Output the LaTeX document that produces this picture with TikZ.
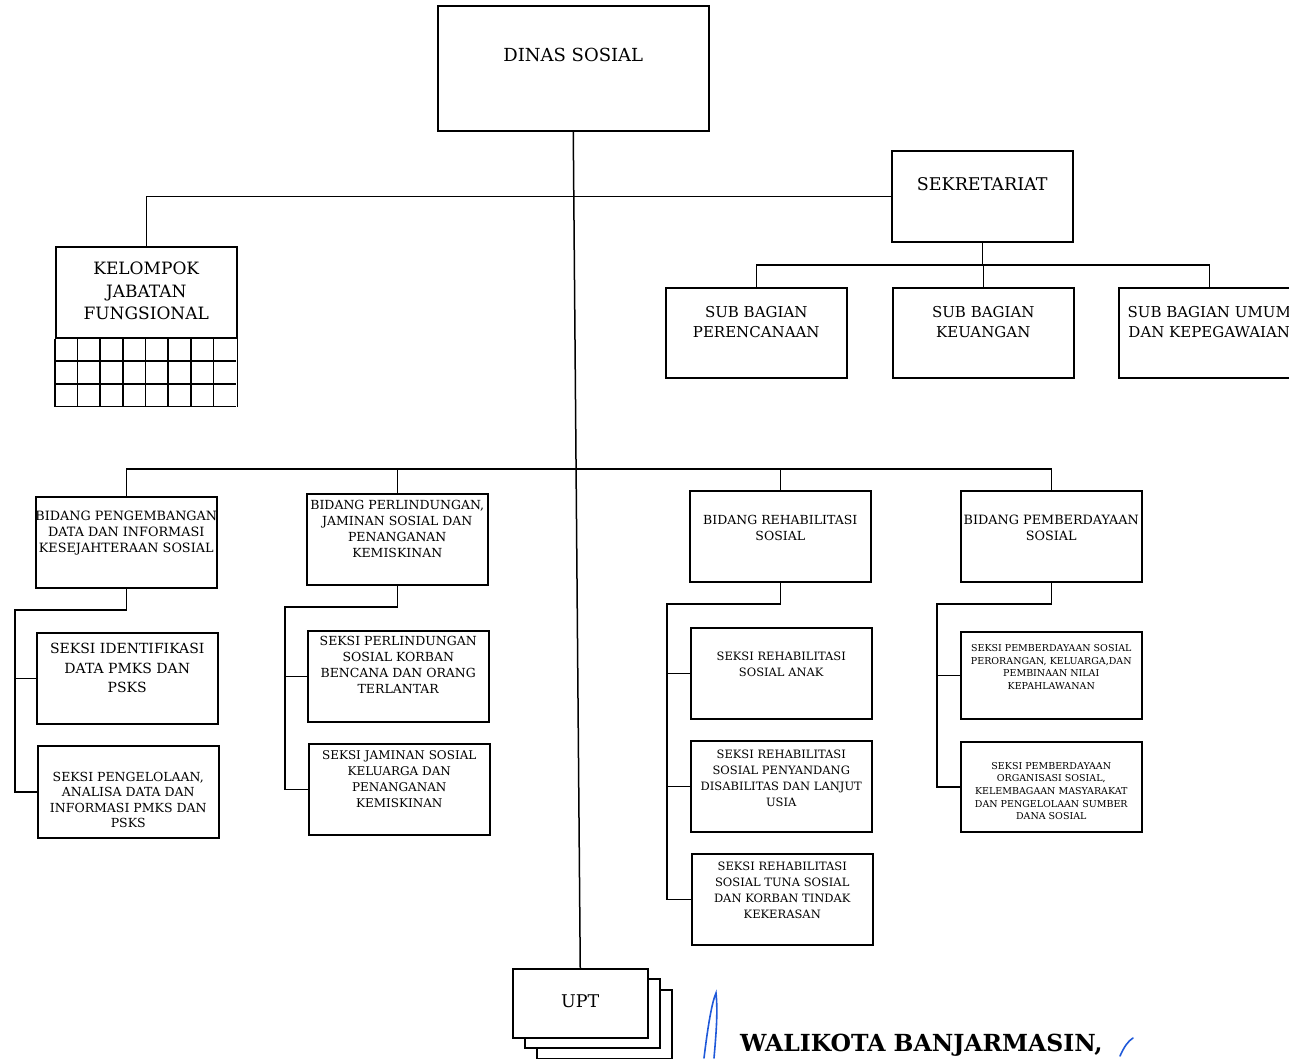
\documentclass[tikz,border=0pt]{standalone}
\usepackage{fontspec}
\setmainfont{DejaVu Serif}
\usetikzlibrary{positioning,calc}

\definecolor{inkblue}{rgb}{0.12, 0.35, 0.85}

\tikzset{
  unit/.style={draw, line width=1.5pt, fill=white, inner sep=0pt, anchor=north west,
    minimum width=181pt, minimum height=91pt},
  lbl/.style 2 args={align=center, inner sep=0pt, font=\fontsize{#1}{#2}\selectfont},
  wire/.style={line width=1.5pt},
  sig/.style={inkblue, line width=1.6pt, line cap=round},
}

\begin{document}
\begin{tikzpicture}[x=1pt,y=1pt,yscale=-1,xscale=1]
\clip (0,0) rectangle (1289,1058);

% top
\node[unit, minimum width=271pt, minimum height=125pt] (dinas) at (437,5) {};
\node[lbl={18}{22}] (dinasT) at ($(dinas.north)+(0,50)$) {DINAS SOSIAL};

\node[unit] (kjf) at (55,246) {};
\node[lbl={17}{22.5}] (kjfT) at ($(kjf.north)+(0,45)$) {KELOMPOK\\JABATAN\\FUNGSIONAL};
\foreach \i in {1,...,7} {
  \draw[line width=1.6pt] ($(kjf.south west)+(\i*22.625,0)$) -- ++(0,68);
}
\foreach \j in {1,2,3} {
  \draw[line width=1.6pt] ($(kjf.south west)+(0,\j*22.667)$) -- ++(181,0);
}
\draw[line width=1.6pt] (kjf.south west) -- ++(0,68);
\draw[line width=1.6pt] (kjf.south east) -- ++(0,68);

\node[unit] (sek) at (891,150) {};
\node[lbl={17.5}{21}] (sekT) at ($(sek.north)+(0,34)$) {SEKRETARIAT};

\node[unit, minimum height=90pt] (sbp) at (665,287) {};
\node[unit, minimum height=90pt] (sbk) at (892,287) {};
\node[unit, minimum height=90pt] (sbu) at (1118,287) {};
\node[lbl={15}{20}] (sbpT) at ($(sbp.north)+(0,35)$) {SUB BAGIAN\\PERENCANAAN};
\node[lbl={15}{20}] (sbkT) at ($(sbk.north)+(0,35)$) {SUB BAGIAN\\KEUANGAN};
\node[lbl={15}{20}] (sbuT) at ($(sbu.north)+(0,35)$) {SUB BAGIAN UMUM\\DAN KEPEGAWAIAN};

% bidang
\node[unit] (bid1) at (35,496) {};
\node[unit] (bid2) at (306,493) {};
\node[unit] (bid3) at (689,490) {};
\node[unit] (bid4) at (960,490) {};
\node[lbl={12.8}{16}] (bid1T) at ($(bid1.north)+(0,37)$) {BIDANG PENGEMBANGAN\\DATA DAN INFORMASI\\KESEJAHTERAAN SOSIAL};
\node[lbl={12.5}{16}] (bid2T) at ($(bid2.north)+(0,36)$) {BIDANG PERLINDUNGAN,\\JAMINAN SOSIAL DAN\\PENANGANAN\\KEMISKINAN};
\node[lbl={12.5}{16}] (bid3T) at ($(bid3.north)+(0,38)$) {BIDANG REHABILITASI\\SOSIAL};
\node[lbl={12.8}{16}] (bid4T) at ($(bid4.north)+(0,38)$) {BIDANG PEMBERDAYAAN\\SOSIAL};

% seksi
\node[unit] (s11) at (36,632) {};
\node[unit, minimum height=92pt] (s12) at (37,745) {};
\node[unit] (s21) at (307,630) {};
\node[unit] (s22) at (308,743) {};
\node[unit] (s31) at (690,627) {};
\node[unit] (s32) at (690,740) {};
\node[unit] (s33) at (691,853) {};
\node[unit, minimum height=87pt] (s41) at (960,631) {};
\node[unit, minimum height=90pt] (s42) at (960,741) {};

\node[lbl={14}{19.5}] (s11T) at ($(s11.north)+(0,36)$) {SEKSI IDENTIFIKASI\\DATA PMKS DAN\\PSKS};
\node[lbl={12.5}{15.5}] (s12T) at ($(s12.north)+(0,55)$) {SEKSI PENGELOLAAN,\\ANALISA DATA DAN\\INFORMASI PMKS DAN\\PSKS};
\node[lbl={12.5}{16}] (s21T) at ($(s21.north)+(0,35)$) {SEKSI PERLINDUNGAN\\SOSIAL KORBAN\\BENCANA DAN ORANG\\TERLANTAR};
\node[lbl={12}{16}] (s22T) at ($(s22.north)+(0,36)$) {SEKSI JAMINAN SOSIAL\\KELUARGA DAN\\PENANGANAN\\KEMISKINAN};
\node[lbl={11.5}{16}] (s31T) at ($(s31.north)+(0,37)$) {SEKSI REHABILITASI\\SOSIAL ANAK};
\node[lbl={11.5}{16}] (s32T) at ($(s32.north)+(0,38)$) {SEKSI REHABILITASI\\SOSIAL PENYANDANG\\DISABILITAS DAN LANJUT\\USIA};
\node[lbl={11.5}{16}] (s33T) at ($(s33.north)+(0,37)$) {SEKSI REHABILITASI\\SOSIAL TUNA SOSIAL\\DAN KORBAN TINDAK\\KEKERASAN};
\node[lbl={9.5}{12.7}] (s41T) at ($(s41.north)+(0,36)$) {SEKSI PEMBERDAYAAN SOSIAL\\PERORANGAN, KELUARGA,DAN\\PEMBINAAN NILAI\\KEPAHLAWANAN};
\node[lbl={9.5}{12.7}] (s42T) at ($(s42.north)+(0,50)$) {SEKSI PEMBERDAYAAN\\ORGANISASI SOSIAL,\\KELEMBAGAAN MASYARAKAT\\DAN PENGELOLAAN SUMBER\\DANA SOSIAL};

% upt, stacked
\node[unit, minimum width=135pt, minimum height=69pt] (upt3) at (536,989) {};
\node[unit, minimum width=135pt, minimum height=69pt] (upt2) at (524,978) {};
\node[unit, minimum width=135pt, minimum height=69pt] (upt) at (512,968) {};
\node[lbl={17.5}{21}] (uptT) at ($(upt.north)+(0,33)$) {UPT};

% lines
\draw[wire] (dinas.south) -- (upt.north);
\draw[wire] (kjf.north) |- (sek.west);

\coordinate (sbar) at (0,265);
\draw[wire] (sek.south) -- (sek.south |- sbar);
\draw[wire] (sbp.north) |- (sbar -| sbu.north) -- (sbu.north);
\draw[wire] (sbk.north |- sbar) -- (sbk.north);

\coordinate (bbar) at (0,469);
\draw[wire] (bid1.north) |- (bbar -| bid4.north) -- (bid4.north);
\draw[wire] (bid2.north |- bbar) -- (bid2.north);
\draw[wire] (bid3.north |- bbar) -- (bid3.north);

\coordinate (r1) at (15,610);
\coordinate (r2) at (285,607);
\coordinate (r3) at (667,604);
\coordinate (r4) at (937,604);
\draw[wire] (bid1.south) |- (r1) |- (s12.west);
\draw[wire] (s11.west) -- (s11.west -| r1);
\draw[wire] (bid2.south) |- (r2) |- (s22.west);
\draw[wire] (s21.west) -- (s21.west -| r2);
\draw[wire] (bid3.south) |- (r3) |- (s33.west);
\draw[wire] (s31.west) -- (s31.west -| r3);
\draw[wire] (s32.west) -- (s32.west -| r3);
\draw[wire] (bid4.south) |- (r4) |- (s42.west);
\draw[wire] (s41.west) -- (s41.west -| r4);

% signature
\node[anchor=base west, inner sep=0pt, font=\bfseries\fontsize{23.5}{28}\selectfont] (wali) at (740,1051) {WALIKOTA BANJARMASIN,};
\draw[sig] (704,1058) .. controls (708,1025) and (712,1002) .. (716,993) .. controls (718,1012) and (716,1035) .. (714,1058);
\draw[sig] (1120,1056) .. controls (1124,1047) and (1128,1041) .. (1133,1038);

\end{tikzpicture}
\end{document}
